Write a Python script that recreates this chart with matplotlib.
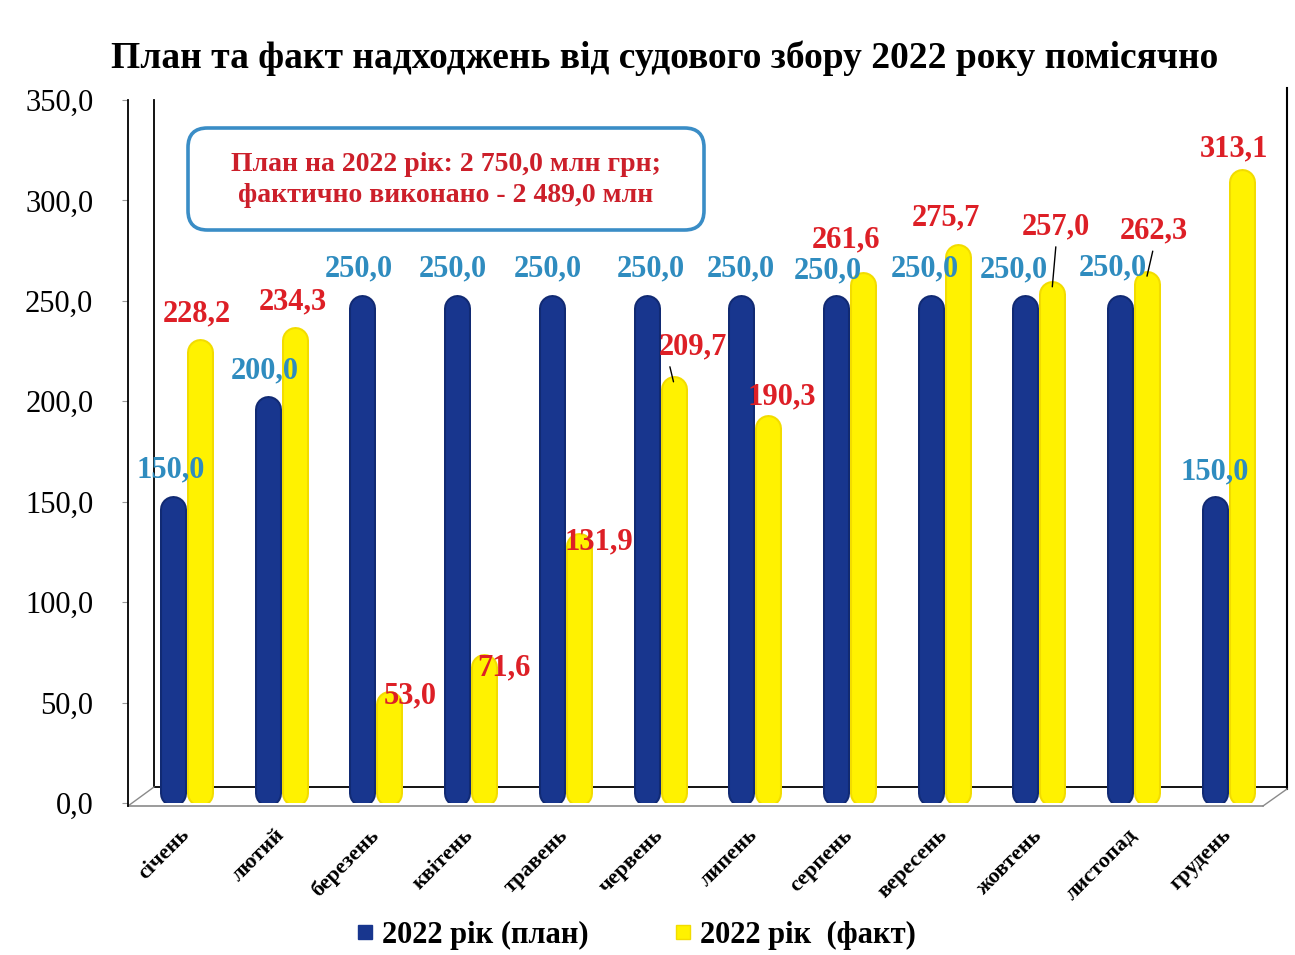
import numpy as np
import matplotlib
matplotlib.use("Agg")
import matplotlib.pyplot as plt
from matplotlib.lines import Line2D
from matplotlib.patches import FancyBboxPatch

# data
months = ["січень", "лютий", "березень", "квітень", "травень", "червень",
          "липень", "серпень", "вересень", "жовтень", "листопад", "грудень"]
plan = [150.0, 200.0, 250.0, 250.0, 250.0, 250.0, 250.0, 250.0, 250.0, 250.0, 250.0, 150.0]
fact = [228.2, 234.3, 53.0, 71.6, 131.9, 209.7, 190.3, 261.6, 275.7, 257.0, 262.3, 313.1]
series_names = ["2022 рік (план)", "2022 рік  (факт)"]
note = "План на 2022 рік: 2 750,0 млн грн;\nфактично виконано - 2 489,0 млн"

# label offsets in pixels (dx, dy) from the bar top
plan_off = [(-2, 32), (-3, 30), (-4, 32), (-4, 32), (-4, 32), (4, 32),
            (0, 32), (-8, 30), (-6, 32), (-11, 31), (-7, 33), (0, 30)]
fact_off = [(-3, 31), (-2, 30), (21, 1), (20, -9), (20, -4), (19, 35),
            (14, 24), (-17, 38), (-12, 31), (4, 60), (7, 45), (-8, 25)]
leaders = {5: (0.15, 0), 9: (0.5, 0), 10: (0.5, 0)}

BLUE = "#18368e"
BLUE_DARK = "#112a73"
YELLOW = "#fff200"
YELLOW_DARK = "#f2dc00"
PLAN_TXT = "#2f8cbf"
FACT_TXT = "#dd1f26"

plt.rcParams["font.family"] = ["Liberation Serif", "DejaVu Serif"]

W, H = 1295, 955
fig = plt.figure(figsize=(W / 100, H / 100), dpi=100)
fig.patch.set_facecolor("white")

L, R, B, T = 128, 1287, 803, 100
ax = fig.add_axes([L / W, 1 - B / H, (R - L) / W, (B - T) / H])

step_px = 94.7
x = np.arange(len(months))
ax.set_xlim(-(186.5 - L) / step_px, (R - 186.5) / step_px)
ax.set_ylim(0, 350)
px_per_unit = (B - T) / 350.0
half = 13.5 / step_px
bar_px = 27
lw_pt = bar_px * 0.72

def draw_bars(xs, vals, c_in, c_edge):
    for xi, v in zip(xs, vals):
        y0 = 10.5 / px_per_unit
        y1 = v - 7.5 / px_per_unit
        ax.plot([xi, xi], [y0, y1], color=c_edge, lw=lw_pt,
                solid_capstyle="round", zorder=3)
        ax.plot([xi, xi], [y0, y1], color=c_in, lw=lw_pt * 0.85,
                solid_capstyle="round", zorder=4)

draw_bars(x - half, plan, BLUE, BLUE_DARK)
draw_bars(x + half, fact, YELLOW, YELLOW_DARK)

lab_font = dict(fontsize=22, fontweight="bold", ha="center", va="center")
for i in range(len(months)):
    ax.annotate(f"{plan[i]:.1f}".replace(".", ","), (x[i] - half, plan[i]),
                xytext=plan_off[i], textcoords="offset pixels",
                color=PLAN_TXT, zorder=6, **lab_font)
    kw = {}
    if i in leaders:
        kw["arrowprops"] = dict(arrowstyle="-", color="black", lw=1,
                                relpos=leaders[i], shrinkA=2, shrinkB=0)
    ax.annotate(f"{fact[i]:.1f}".replace(".", ","), (x[i] + half, fact[i]),
                xytext=fact_off[i], textcoords="offset pixels",
                color=FACT_TXT, zorder=6, **lab_font, **kw)

# y axis
ax.set_yticks(np.arange(0, 351, 50))
ax.set_yticklabels([f"{v:.1f}".replace(".", ",") for v in np.arange(0, 351, 50)],
                   fontsize=22)
ax.tick_params(axis="y", length=4, color="#999999", pad=21)
ax.set_xticks([])
for s in ["top", "right", "bottom"]:
    ax.spines[s].set_visible(False)
ax.spines["left"].set_color("black")
ax.spines["left"].set_linewidth(1.3)
ax.spines["left"].set_bounds(-1.5, 350)

# month labels
for i, m in enumerate(months):
    ax.annotate(m, (x[i], 0), xycoords=("data", "axes fraction"),
                xytext=(-7, -22), textcoords="offset pixels",
                rotation=45, rotation_mode="anchor", ha="right", va="top",
                fontsize=16, fontweight="bold")

# pseudo 3d frame
def fx(px):
    return (px - L) / (R - L)

def fy(py):
    return (B - py) / (B - T)

frame = [((154, 787), (154, 100), "black", 1.3),
         ((154, 787), (1287, 787), "black", 1.3),
         ((1287, 789), (1287, 88), "black", 1.5),
         ((128, 806), (1263, 806), "#8a8a8a", 1.2),
         ((128, 806), (154, 787), "#8a8a8a", 1.0),
         ((1263, 806), (1287, 789), "#8a8a8a", 1.0)]
for (x0, y0), (x1, y1), c, w in frame:
    ax.add_line(Line2D([fx(x0), fx(x1)], [fy(y0), fy(y1)], transform=ax.transAxes,
                       color=c, lw=w, clip_on=False, zorder=2))

# note box
bx0, by0, bx1, by1 = 188, 128, 704, 230
box = FancyBboxPatch((bx0 / W, 1 - by1 / H), (bx1 - bx0) / W, (by1 - by0) / H,
                     boxstyle="round,pad=0,rounding_size=0.015",
                     mutation_aspect=W / H, transform=fig.transFigure,
                     facecolor="white", edgecolor="#3a8dc6", lw=2.6, zorder=5)
fig.patches.append(box)
fig.text((bx0 + bx1) / 2 / W, 1 - 180 / H, note, ha="center", va="center",
         fontsize=20, fontweight="bold", color="#cc1f2a", linespacing=1.35,
         zorder=6)

# title
fig.text(665 / W, 1 - 58 / H,
         "План та факт надходжень від судового збору 2022 року помісячно",
         ha="center", va="center", fontsize=27, fontweight="bold")

# legend
handles = [Line2D([], [], marker="s", ls="none", color=BLUE, markersize=10),
           Line2D([], [], marker="s", ls="none", color=YELLOW,
                  markeredgecolor=YELLOW_DARK, markersize=10)]
fig.legend(handles, series_names, loc="center", bbox_to_anchor=(636 / W, 1 - 935 / H),
           ncol=2, frameon=False, handlelength=0.6, handletextpad=0.25,
           columnspacing=2.8, prop=dict(size=22, weight="bold"))

fig.savefig("out.png", dpi=100, facecolor="white")
